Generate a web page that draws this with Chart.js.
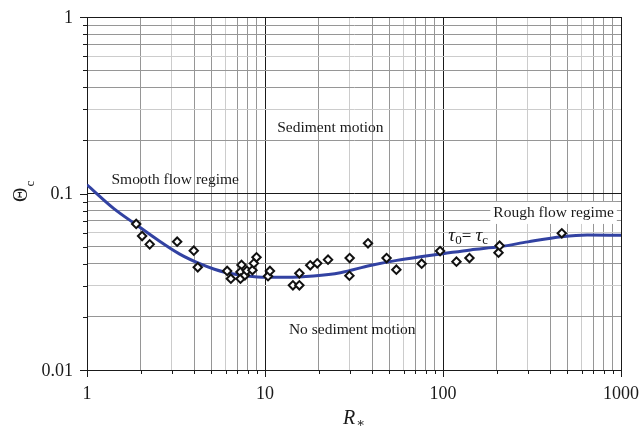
<!DOCTYPE html>
<html><head><meta charset="utf-8">
<script src="https://cdn.jsdelivr.net/npm/chart.js@4"></script>
<style>html,body{margin:0;padding:0;background:#fff}</style>
</head><body>
<canvas id="c" width="643" height="432" style="display:block;width:643px;height:432px"></canvas>
<script>
// Shields curve (R*, Theta_c)
const curveX = [1, 1.41, 1.9, 2.5, 3.3, 4.3, 5.2, 6.1, 7.9, 10.2, 13.3, 18.7, 26.5, 39, 55, 74.6, 100, 142.6, 210, 300, 465, 646, 1000];
const curveY = [0.112, 0.0824, 0.0663, 0.0545, 0.0455, 0.0400, 0.0372, 0.0356, 0.0341, 0.0335, 0.0335, 0.0341, 0.0356, 0.0391, 0.0418, 0.0438, 0.0456, 0.0479, 0.050, 0.0532, 0.0569, 0.0582, 0.058];
// Experimental points
const pointsX = [1.89, 2.04, 2.25, 3.21, 3.98, 4.19, 6.13, 6.43, 7.38, 7.28, 7.28, 7.71, 7.91, 8.5, 8.66, 8.96, 10.4, 10.66, 14.35, 15.6, 15.6, 17.96, 19.66, 22.6, 29.8, 29.9, 37.9, 48.2, 54.7, 75.9, 96.3, 119, 140.8, 205, 208, 465];
const pointsY = [0.0672, 0.0574, 0.0515, 0.0533, 0.0474, 0.0382, 0.0364, 0.0329, 0.0394, 0.0359, 0.0329, 0.0344, 0.0365, 0.0368, 0.0402, 0.0435, 0.034, 0.0364, 0.0302, 0.0302, 0.0353, 0.0392, 0.0402, 0.0422, 0.0342, 0.0431, 0.0522, 0.0431, 0.037, 0.040, 0.0472, 0.0411, 0.0431, 0.0462, 0.0506, 0.0595];
const xTickLabels = ['1', '10', '100', '1000'];
const yTickLabels = ['0.01', '0.1', '1'];

const SERIF = '"Liberation Serif", "DejaVu Serif", serif';
const INK = '#1a1a1a';

function mant(v){
  const e = Math.floor(Math.log10(v) + 1e-9);
  return Math.round(v / Math.pow(10, e));
}
function gridColor(ctx){
  const v = ctx.tick && ctx.tick.value;
  if (v == null) return '#999';
  const m = mant(v);
  if (m === 1) return INK;
  if (m === 3 || m === 6) return '#cccccc';
  return '#969696';
}
function logTicks(scale){
  const out = [];
  const e0 = Math.round(Math.log10(scale.min)), e1 = Math.round(Math.log10(scale.max));
  for (let e = e0; e <= e1; e++){
    for (let m = 1; m <= 9; m++){
      const v = parseFloat((m * Math.pow(10, e)).toPrecision(6));
      if (v >= scale.min - 1e-12 && v <= scale.max + 1e-9) out.push({value: v, major: m === 1});
      if (e === e1) break;
    }
  }
  scale.ticks = out;
}

const tickPlugin = {
  id: 'tickmarks',
  afterDraw(chart){
    const {ctx, scales:{x, y}, chartArea:a} = chart;
    ctx.save();
    ctx.strokeStyle = INK;
    ctx.lineWidth = 1;
    ctx.beginPath();
    x.ticks.forEach(t => {
      const px = Math.round(x.getPixelForValue(t.value)) + 0.5;
      const len = mant(t.value) === 1 ? 7 : 4;
      ctx.moveTo(px, a.bottom); ctx.lineTo(px, a.bottom + len);
    });
    y.ticks.forEach(t => {
      const py = Math.round(y.getPixelForValue(t.value)) + 0.5;
      const len = mant(t.value) === 1 ? 7 : 4;
      ctx.moveTo(a.left, py); ctx.lineTo(a.left - len, py);
    });
    ctx.stroke();

    // tick labels
    ctx.fillStyle = INK;
    ctx.font = '18px ' + SERIF;
    ctx.textBaseline = 'middle';
    ctx.textAlign = 'center';
    xTickLabels.forEach(s => ctx.fillText(s, x.getPixelForValue(Number(s)), a.bottom + 24));
    ctx.textAlign = 'right';
    yTickLabels.forEach(s => ctx.fillText(s, a.left - 14, y.getPixelForValue(Number(s)) + 1));

    // axis titles
    ctx.textBaseline = 'alphabetic';
    ctx.textAlign = 'left';
    ctx.font = 'italic 20px ' + SERIF;
    const rx = 343, ry = 424;
    ctx.fillText('R', rx, ry);
    const rw = ctx.measureText('R').width;
    ctx.font = '13px ' + SERIF;
    ctx.fillText('\u2217', rx + rw + 1, ry + 3);
    ctx.save();
    ctx.translate(27, 202);
    ctx.rotate(-Math.PI / 2);
    ctx.font = '20px ' + SERIF;
    ctx.fillText('\u0398', 0, 0);
    const tw = ctx.measureText('\u0398').width;
    ctx.font = '13px ' + SERIF;
    ctx.fillText('c', tw + 1, 7);
    ctx.restore();
    ctx.restore();
  }
};

const annotPlugin = {
  id: 'annot',
  beforeDatasetsDraw(chart){
    const {ctx, scales:{x, y}} = chart;
    ctx.save();
    ctx.fillStyle = INK;
    ctx.textBaseline = 'middle';
    ctx.textAlign = 'center';
    ctx.font = '15.5px ' + SERIF;
    ctx.fillText('Sediment motion', x.getPixelForValue(23.3), y.getPixelForValue(0.235));
    ctx.fillText('Smooth flow regime', x.getPixelForValue(3.13), y.getPixelForValue(0.1193));
    ctx.fillText('No sediment motion', x.getPixelForValue(30.9), y.getPixelForValue(0.01686));
    const rxp = x.getPixelForValue(418), ryp = y.getPixelForValue(0.0776);
    const w = ctx.measureText('Rough flow regime').width;
    ctx.fillStyle = '#fff';
    ctx.fillRect(rxp - w/2 - 3, ryp - 11, w + 6, 22);
    ctx.fillStyle = INK;
    ctx.fillText('Rough flow regime', rxp, ryp);
    let tx = x.getPixelForValue(107.2);
    const ty = y.getPixelForValue(0.0574) + 5;
    ctx.textAlign = 'left';
    ctx.textBaseline = 'alphabetic';
    const big = 'italic 19px ' + SERIF, small = '13px ' + SERIF, norm = '17px ' + SERIF;
    ctx.font = big; ctx.fillText('\u03C4', tx, ty); tx += ctx.measureText('\u03C4').width;
    ctx.font = small; ctx.fillText('0', tx, ty + 3); tx += ctx.measureText('0').width;
    ctx.font = norm; ctx.fillText('= ', tx, ty); tx += ctx.measureText('= ').width;
    ctx.font = big; ctx.fillText('\u03C4', tx, ty); tx += ctx.measureText('\u03C4').width;
    ctx.font = small; ctx.fillText('c', tx, ty + 3);
    ctx.restore();
  }
};

new Chart(document.getElementById('c'), {
  type: 'scatter',
  data: {
    datasets: [
      {
        label: 'Data',
        data: pointsX.map((v, i) => ({x: v, y: pointsY[i]})),
        pointStyle: 'rectRot',
        pointRadius: 4.2,
        pointBorderWidth: 2,
        borderColor: '#111',
        backgroundColor: '#fff',
        showLine: false
      },
      {
        label: 'Shields curve',
        data: curveX.map((v, i) => ({x: v, y: curveY[i]})),
        showLine: true,
        borderColor: '#3242a2',
        borderWidth: 3,
        pointRadius: 0,
        cubicInterpolationMode: 'monotone',
        fill: false
      }
    ]
  },
  options: {
    responsive: false,
    animation: false,
    events: [],
    layout: { padding: { top: 17, right: 22, left: 0, bottom: 0 } },
    plugins: { legend: { display: false }, tooltip: { enabled: false } },
    scales: {
      x: {
        type: 'logarithmic',
        min: 1, max: 1000,
        afterBuildTicks: logTicks,
        afterFit(s){ s.height = 62; },
        border: { display: true, color: INK, width: 1 },
        grid: { color: gridColor, drawTicks: false, lineWidth: 1 },
        ticks: { display: false, autoSkip: false }
      },
      y: {
        type: 'logarithmic',
        min: 0.01, max: 1,
        afterBuildTicks: logTicks,
        afterFit(s){ s.width = 87; },
        border: { display: true, color: INK, width: 1 },
        grid: { color: gridColor, drawTicks: false, lineWidth: 1 },
        ticks: { display: false, autoSkip: false }
      }
    }
  },
  plugins: [annotPlugin, tickPlugin]
});
</script>
</body></html>
